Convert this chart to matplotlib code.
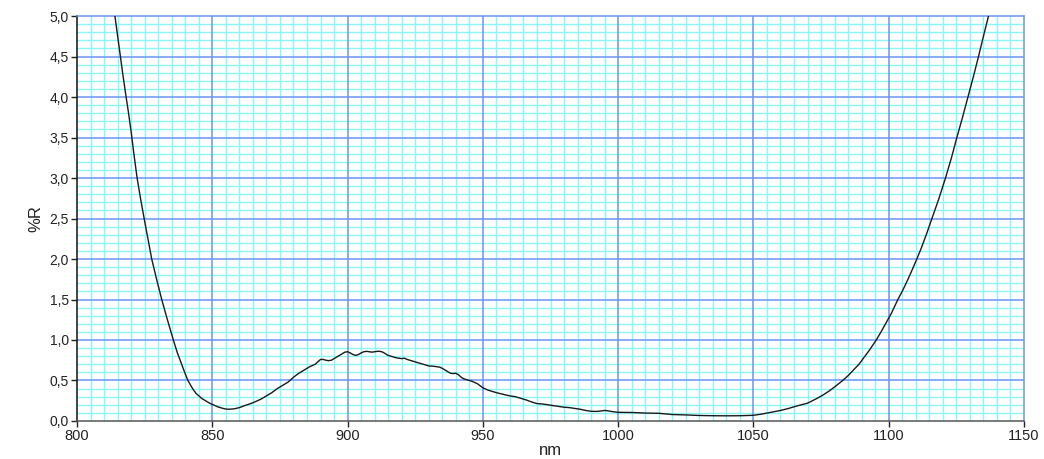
import matplotlib
matplotlib.use("Agg")
import matplotlib.pyplot as plt
from matplotlib.ticker import MultipleLocator, FuncFormatter

plt.rcParams['font.family'] = ['Liberation Sans', 'DejaVu Sans']

# reflectance curve (nm, %R)
wavelength = [
    814.0, 815.0, 816.0, 817.0, 818.0, 819.0, 820.0, 821.0, 822.2, 823.5,
    824.8, 826.2, 827.6, 829.4, 831.3, 833.4, 835.6, 837.0, 838.0, 839.0,
    840.0, 841.0, 842.0, 843.0, 844.0, 845.4, 846.0, 847.0, 848.0, 849.0,
    850.0, 851.0, 852.0, 853.0, 854.0, 855.0, 856.0, 857.0, 858.0, 860.0,
    862.0, 865.0, 868.0, 870.0, 872.0, 874.0, 876.0, 878.0, 880.0, 882.0,
    884.0, 886.0, 888.0, 889.0, 890.0, 891.0, 892.0, 893.0, 894.0, 895.0,
    896.0, 897.0, 898.0, 899.0, 900.0, 901.0, 902.0, 903.0, 904.0, 905.0,
    906.0, 907.0, 908.0, 909.0, 910.0, 911.0, 912.0, 913.0, 914.0, 915.0,
    916.0, 917.0, 918.0, 919.0, 920.0, 921.0, 922.0, 923.0, 924.0, 925.0,
    926.0, 927.0, 928.0, 929.0, 930.0, 932.0, 934.0, 935.0, 936.0, 937.0,
    938.0, 939.0, 940.0, 941.0, 942.0, 943.0, 944.0, 945.0, 946.0, 948.0,
    950.0, 952.0, 955.0, 958.0, 960.0, 962.0, 964.0, 966.0, 968.0, 970.0,
    972.0, 974.0, 976.0, 978.0, 980.0, 982.0, 984.0, 986.0, 988.0, 990.0,
    992.0, 994.0, 995.0, 996.0, 998.0, 1000.0, 1005.0, 1010.0, 1015.0, 1020.0,
    1025.0, 1030.0, 1035.0, 1040.0, 1045.0, 1050.0, 1053.0, 1057.0, 1060.0, 1063.0,
    1066.0, 1070.0, 1073.0, 1075.7, 1078.0, 1080.0, 1083.0, 1085.0, 1087.0, 1089.0,
    1091.0, 1093.0, 1095.4, 1097.0, 1099.0, 1101.0, 1103.4, 1105.0, 1107.0, 1108.8,
    1110.4, 1112.0, 1114.0, 1116.0, 1118.5, 1121.0, 1123.2, 1125.2, 1127.3, 1129.3,
    1131.3, 1133.2, 1135.1, 1136.9,
]
reflectance = [
    5.00, 4.75, 4.50, 4.26, 4.03, 3.81, 3.57, 3.30, 3.00, 2.74,
    2.50, 2.25, 2.00, 1.75, 1.50, 1.25, 1.00, 0.85, 0.76, 0.67,
    0.58, 0.50, 0.44, 0.385, 0.34, 0.30, 0.28, 0.26, 0.24, 0.22,
    0.205, 0.19, 0.175, 0.165, 0.155, 0.148, 0.145, 0.147, 0.15, 0.165,
    0.19, 0.225, 0.27, 0.31, 0.35, 0.40, 0.44, 0.48, 0.54, 0.59,
    0.63, 0.67, 0.70, 0.73, 0.76, 0.76, 0.75, 0.745, 0.75, 0.77,
    0.79, 0.81, 0.83, 0.85, 0.855, 0.84, 0.82, 0.81, 0.82, 0.84,
    0.855, 0.86, 0.855, 0.85, 0.855, 0.86, 0.86, 0.85, 0.83, 0.81,
    0.80, 0.79, 0.78, 0.775, 0.77, 0.775, 0.76, 0.75, 0.74, 0.73,
    0.72, 0.71, 0.70, 0.69, 0.68, 0.675, 0.665, 0.65, 0.63, 0.61,
    0.59, 0.585, 0.59, 0.57, 0.54, 0.52, 0.51, 0.50, 0.49, 0.46,
    0.41, 0.38, 0.35, 0.325, 0.31, 0.30, 0.28, 0.26, 0.235, 0.215,
    0.21, 0.20, 0.19, 0.18, 0.17, 0.165, 0.155, 0.145, 0.13, 0.12,
    0.118, 0.125, 0.13, 0.127, 0.115, 0.107, 0.105, 0.098, 0.095, 0.08,
    0.075, 0.068, 0.065, 0.064, 0.065, 0.07, 0.085, 0.11, 0.13, 0.155,
    0.185, 0.22, 0.27, 0.32, 0.37, 0.42, 0.50, 0.56, 0.63, 0.70,
    0.79, 0.88, 1.00, 1.09, 1.21, 1.33, 1.50, 1.60, 1.74, 1.875,
    2.00, 2.13, 2.31, 2.50, 2.74, 3.00, 3.25, 3.50, 3.75, 4.00,
    4.25, 4.50, 4.76, 5.00,
]

major_blue = '#6a95f0'
minor_cyan = '#8af5fb'

fig = plt.figure(figsize=(10.44, 4.59), dpi=100)
ax = fig.add_axes([0.0738, 0.0828, 0.9070, 0.8823])

ax.plot(wavelength, reflectance, color='#1a1a1a', lw=1.0, zorder=5)

ax.set_xlim(800, 1150)
ax.set_ylim(0, 5)
ax.xaxis.set_major_locator(MultipleLocator(50))
ax.xaxis.set_minor_locator(MultipleLocator(5))
ax.yaxis.set_major_locator(MultipleLocator(0.5))
ax.yaxis.set_minor_locator(MultipleLocator(0.1))
ax.yaxis.set_major_formatter(FuncFormatter(lambda v, p: f'{v:.1f}'.replace('.', ',')))

# light cyan minor grid underneath, blue major grid drawn on top of it
ax.grid(which='minor', color=minor_cyan, lw=1.0)
ax.set_axisbelow(True)
for x in ax.get_xticks():
    if 800 < x < 1150:
        ax.axvline(x, color=major_blue, lw=1.1, zorder=1)
for y in ax.get_yticks():
    if 0 < y < 5:
        ax.axhline(y, color=major_blue, lw=1.1, zorder=1)

ax.tick_params(axis='both', which='minor', length=0)
ax.tick_params(axis='y', which='major', length=4, width=1, color='#222222',
               labelsize=10, labelcolor='#222222', pad=2)
ax.tick_params(axis='x', which='major', length=4, width=1, color='#222222',
               labelsize=10.5, labelcolor='#222222', pad=2)

ax.spines['left'].set_color('#111111')
ax.spines['bottom'].set_color('#555555')
ax.spines['top'].set_color(major_blue)
ax.spines['right'].set_color(major_blue)
for s in ax.spines.values():
    s.set_linewidth(1.1)

ax.set_xlabel('nm', fontsize=12, color='#222222', labelpad=0)
ax.set_ylabel('%R', fontsize=12, color='#222222', labelpad=4)

fig.savefig('out.png', dpi=100)
